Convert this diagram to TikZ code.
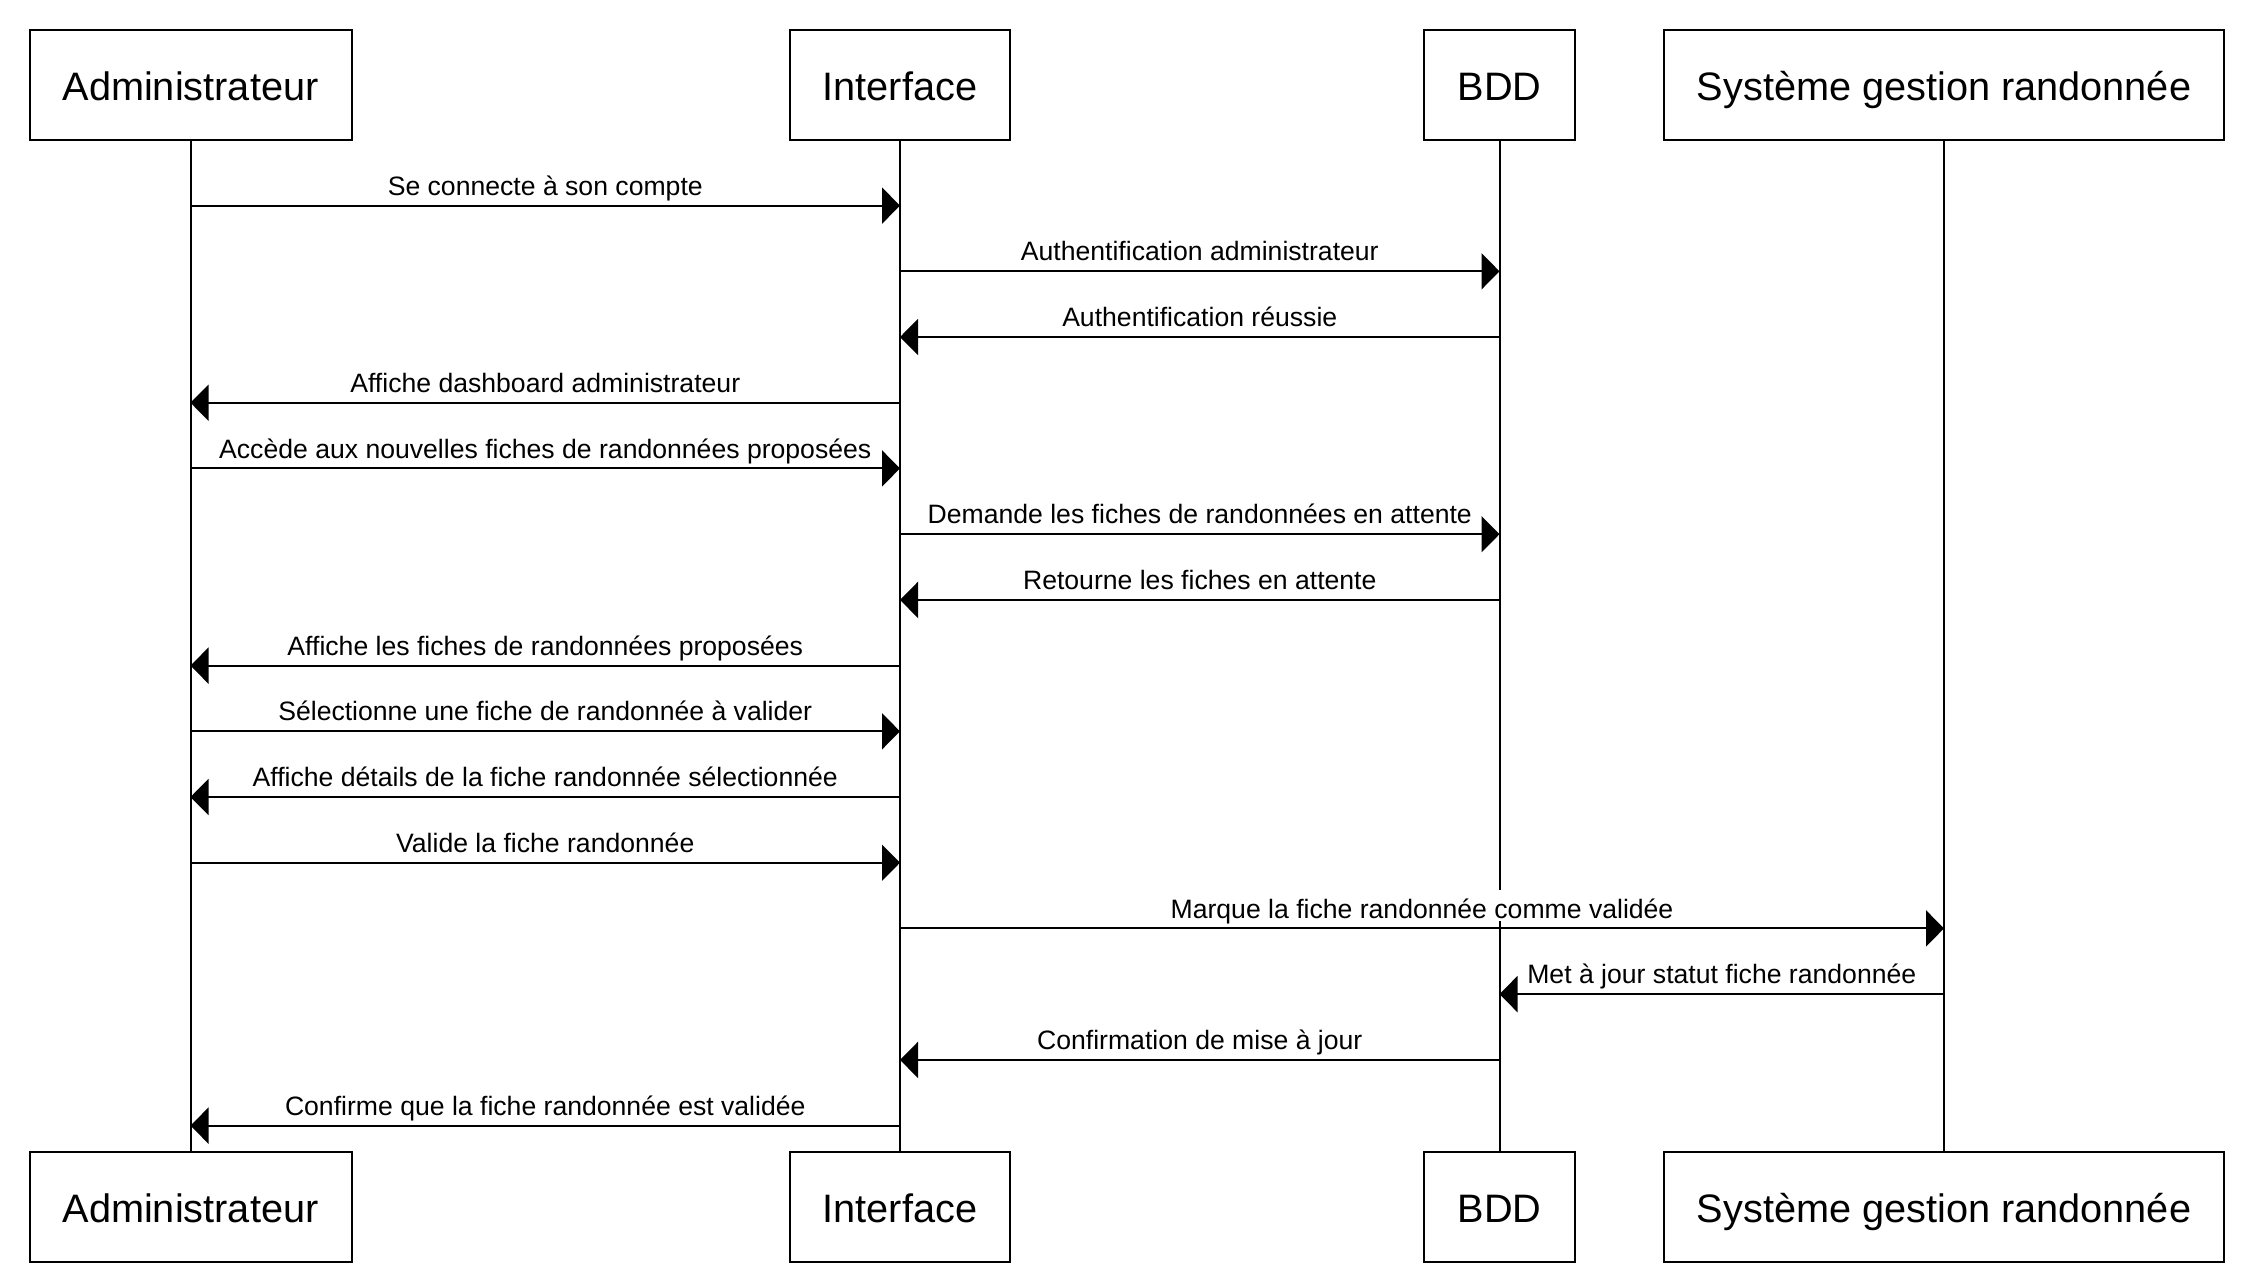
\documentclass[tikz,border=0pt]{standalone}
\usepackage{fontspec}
\setmainfont{Liberation Sans}
\usetikzlibrary{arrows.meta}

\begin{document}
\begin{tikzpicture}[x=0.5pt, y=-0.5pt,
  actor/.style={draw, line width=1pt, fill=white, inner sep=0pt, minimum height=55pt,
    text height=19pt, text depth=4pt,
    font=\fontsize{19.85}{24}\selectfont},
  life/.style={line width=1pt},
  msg/.style={line width=1pt, -{Triangle[length=9pt, width=18pt]}},
  lbl/.style={anchor=base, yshift=5.2pt, fill=white, inner xsep=0.5pt, inner ysep=0.3pt,
    text height=13.8pt, text depth=1.4pt, font=\fontsize{13.3}{16}\selectfont}
]
\useasboundingbox (0,0) rectangle (2254,1282);

% participants, top row
\node[actor, minimum width=161pt] (adm)  at (190.5,85) {Administrateur};
\node[actor, minimum width=110pt] (ihm)  at (900,85)   {Interface};
\node[actor, minimum width=75.5pt] (bdd) at (1499.5,85) {BDD};
\node[actor, minimum width=280pt] (sys)  at (1944,85)  {Système gestion randonnée};

% participants, bottom row
\node[actor, minimum width=161pt] (admB) at (190.5,1207) {Administrateur};
\node[actor, minimum width=110pt] (ihmB) at (900,1207)   {Interface};
\node[actor, minimum width=75.5pt] (bddB) at (1499.5,1207) {BDD};
\node[actor, minimum width=280pt] (sysB) at (1944,1207)  {Système gestion randonnée};

% lifelines
\draw[life] (adm) -- (admB);
\draw[life] (ihm) -- (ihmB);
\draw[life] (bdd) -- (bddB);
\draw[life] (sys) -- (sysB);

% message rows
\coordinate (r1)  at (0,205.6);
\coordinate (r2)  at (0,271.3);
\coordinate (r3)  at (0,337.0);
\coordinate (r4)  at (0,402.7);
\coordinate (r5)  at (0,468.4);
\coordinate (r6)  at (0,534.2);
\coordinate (r7)  at (0,599.9);
\coordinate (r8)  at (0,665.6);
\coordinate (r9)  at (0,731.3);
\coordinate (r10) at (0,797.0);
\coordinate (r11) at (0,862.7);
\coordinate (r12) at (0,928.4);
\coordinate (r13) at (0,994.1);
\coordinate (r14) at (0,1059.9);
\coordinate (r15) at (0,1125.6);

% messages
\draw[msg] (adm |- r1) -- (ihm |- r1) node[midway, lbl] {Se connecte à son compte};
\draw[msg] (ihm |- r2) -- (bdd |- r2) node[midway, lbl] {Authentification administrateur};
\draw[msg] (bdd |- r3) -- (ihm |- r3) node[midway, lbl] {Authentification réussie};
\draw[msg] (ihm |- r4) -- (adm |- r4) node[midway, lbl] {Affiche dashboard administrateur};
\draw[msg] (adm |- r5) -- (ihm |- r5) node[midway, lbl] {Accède aux nouvelles fiches de randonnées proposées};
\draw[msg] (ihm |- r6) -- (bdd |- r6) node[midway, lbl] {Demande les fiches de randonnées en attente};
\draw[msg] (bdd |- r7) -- (ihm |- r7) node[midway, lbl] {Retourne les fiches en attente};
\draw[msg] (ihm |- r8) -- (adm |- r8) node[midway, lbl] {Affiche les fiches de randonnées proposées};
\draw[msg] (adm |- r9) -- (ihm |- r9) node[midway, lbl] {Sélectionne une fiche de randonnée à valider};
\draw[msg] (ihm |- r10) -- (adm |- r10) node[midway, lbl] {Affiche détails de la fiche randonnée sélectionnée};
\draw[msg] (adm |- r11) -- (ihm |- r11) node[midway, lbl] {Valide la fiche randonnée};
\draw[msg] (ihm |- r12) -- (sys |- r12) node[midway, lbl] {Marque la fiche randonnée comme validée};
\draw[msg] (sys |- r13) -- (bdd |- r13) node[midway, lbl] {Met à jour statut fiche randonnée};
\draw[msg] (bdd |- r14) -- (ihm |- r14) node[midway, lbl] {Confirmation de mise à jour};
\draw[msg] (ihm |- r15) -- (adm |- r15) node[midway, lbl] {Confirme que la fiche randonnée est validée};

\end{tikzpicture}
\end{document}
